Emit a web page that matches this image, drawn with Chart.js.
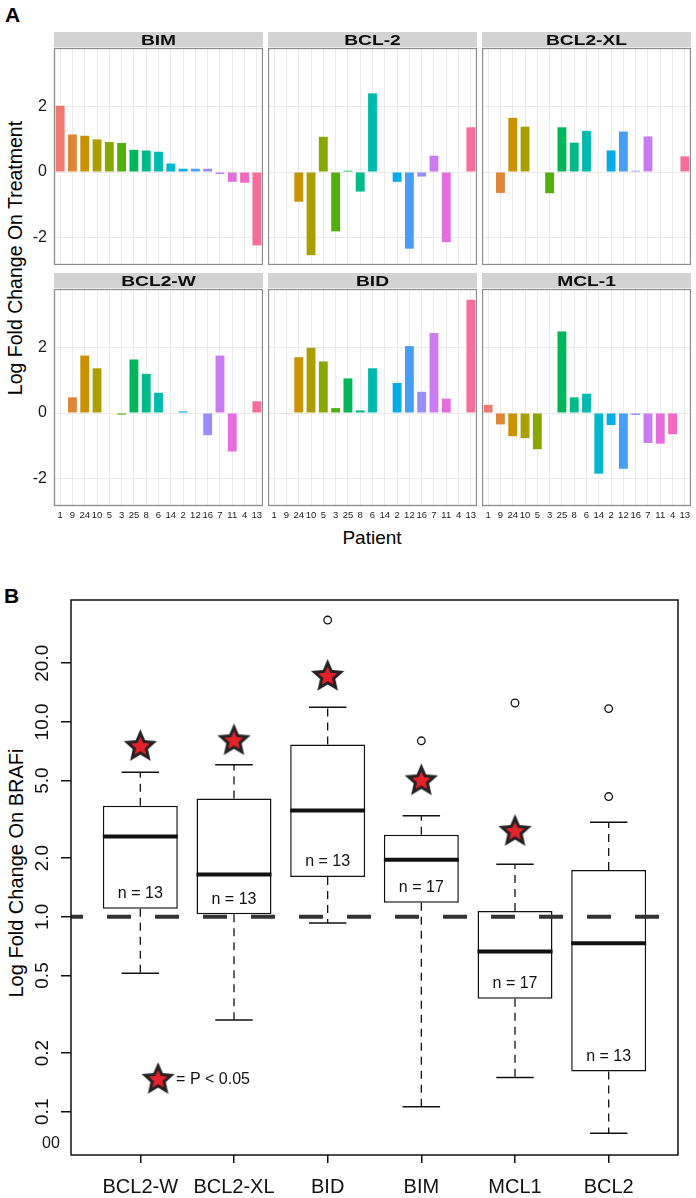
<!DOCTYPE html>
<html>
<head>
<meta charset="utf-8">
<script src="https://cdn.jsdelivr.net/npm/chart.js@4.4.1/dist/chart.umd.min.js"></script>
<style>
  body { margin: 0; background: #fff; width: 696px; height: 1198px; position: relative; overflow: hidden;
         font-family: "Liberation Sans", Arial, Helvetica, sans-serif; color: #000; }
  canvas { position: absolute; }
  .lbl { position: absolute; white-space: nowrap; }
  .rot { transform: translate(-50%, -50%) rotate(-90deg); }
  .mid { transform: translate(-50%, -50%); }
</style>
</head>
<body>
<div class="lbl" style="left:5px;top:3px;font-weight:bold;font-size:21px">A</div>
<div class="lbl rot" style="left:15px;top:258px;font-size:19.5px">Log Fold Change On Treatment</div>
<div class="lbl mid" style="left:372px;top:538px;font-size:19px">Patient</div>
<div class="lbl" style="left:4px;top:584px;font-weight:bold;font-size:21px">B</div>
<div class="lbl rot" style="left:16px;top:873px;font-size:20px">Log Fold Change On BRAFi</div>

<script>
// ---- panel A data ----
const patients = ["1", "9", "24", "10", "5", "3", "25", "8", "6", "14", "2", "12", "16", "7", "11", "4", "13"];
const panelNames = ["BIM", "BCL-2", "BCL2-XL", "BCL2-W", "BID", "MCL-1"];
const bimVals = [2.03, 1.15, 1.11, 1.0, 0.92, 0.89, 0.68, 0.66, 0.62, 0.26, 0.1, 0.1, 0.1, -0.06, -0.3, -0.33, -2.25];
const bcl2Vals = [null, null, -0.91, -2.55, 1.08, -1.82, 0.04, -0.6, 2.41, null, -0.3, -2.35, -0.14, 0.5, -2.15, null, 1.37];
const bclxlVals = [null, -0.64, 1.66, 1.39, null, -0.65, 1.37, 0.9, 1.26, null, 0.66, 1.24, 0.04, 1.09, null, null, 0.48];
const bclwVals = [null, 0.48, 1.76, 1.37, null, -0.05, 1.64, 1.2, 0.62, null, 0.05, null, -0.68, 1.76, -1.18, null, 0.36];
const bidVals = [null, -0.02, 1.71, 2.0, 1.58, 0.15, 1.06, 0.08, 1.37, null, 0.92, 2.05, 0.65, 2.45, 0.44, null, 3.47];
const mcl1Vals = [0.25, -0.35, -0.71, -0.77, -1.11, null, 2.5, 0.48, 0.59, -1.86, -0.37, -1.71, -0.06, -0.92, -0.94, -0.65, null];
const yTicksA = [-2, 0, 2];

// ---- panel B data ----
const genesB = ["BCL2-W", "BCL2-XL", "BID", "BIM", "MCL1", "BCL2"];
const q1 = [1.10, 1.03, 1.60, 1.18, 0.38, 0.161];
const medians = [2.58, 1.65, 3.51, 1.96, 0.664, 0.732];
const q3 = [3.71, 4.04, 7.65, 2.64, 1.07, 1.74];
const whiskLo = [0.514, 0.296, 0.93, 0.106, 0.15, 0.0776];
const whiskHi = [5.52, 6.02, 11.9, 3.30, 1.86, 3.06];
const nCounts = [13, 13, 13, 17, 17, 13];
const outlierGene = [3, 4, 5, 6, 6];
const outlierVal = [33.3, 8.0, 12.5, 11.7, 4.14];
const starVals = [7.55, 8.09, 17.3, 5.04, 2.77, null];
const yTicksB = [0.1, 0.2, 0.5, 1, 2, 5, 10, 20];
const refLine = 1;
const legendKey = { x: 1.19, y: 0.148, text: "= P < 0.05" };

const FONT = '"Liberation Sans", Arial, Helvetica, sans-serif';

// ggplot2 style hue palette (HCL)
function hcl(h, c, l) {
  const hr = h * Math.PI / 180;
  const U = c * Math.cos(hr), V = c * Math.sin(hr);
  const Xn = 95.047, Yn = 100, Zn = 108.883;
  const Y = l > 8 ? Yn * Math.pow((l + 16) / 116, 3) : Yn * l / 903.3;
  const den = Xn + 15 * Yn + 3 * Zn;
  const up = U / (13 * l) + 4 * Xn / den;
  const vp = V / (13 * l) + 9 * Yn / den;
  const X = 9 * Y * up / (4 * vp);
  const Z = Y * (12 - 3 * up - 20 * vp) / (4 * vp);
  const x = X / 100, y = Y / 100, z = Z / 100;
  const lin = [
    3.2404542 * x - 1.5371385 * y - 0.4985314 * z,
    -0.9692660 * x + 1.8760108 * y + 0.0415560 * z,
    0.0556434 * x - 0.2040259 * y + 1.0572252 * z
  ];
  const rgb = lin.map(v => {
    v = v <= 0.0031308 ? 12.92 * v : 1.055 * Math.pow(v, 1 / 2.4) - 0.055;
    return Math.round(Math.min(1, Math.max(0, v)) * 255);
  });
  return `rgb(${rgb[0]},${rgb[1]},${rgb[2]})`;
}
const patientColors = patients.map((p, i) => hcl(15 + i * 360 / patients.length, 88, 64));

const stripPlugin = {
  id: "strip",
  afterDraw(chart, args, opts) {
    const { ctx, chartArea: a } = chart;
    ctx.save();
    ctx.fillStyle = "#d3d3d3";
    ctx.fillRect(a.left, a.top - 16, a.right - a.left, 15);
    ctx.strokeStyle = "#8c8c8c";
    ctx.lineWidth = 1.3;
    ctx.strokeRect(a.left + 0.5, a.top + 0.5, a.right - a.left - 1, a.bottom - a.top - 1);
    ctx.fillStyle = "#0d0d0d";
    ctx.font = "bold 15px " + FONT;
    ctx.textAlign = "center";
    ctx.textBaseline = "middle";
    ctx.translate((a.left + a.right) / 2, a.top - 8);
    ctx.scale(1.28, 1);
    ctx.fillText(opts.title, 0, 1);
    ctx.restore();
  }
};

const cols = [{ left: 0, w: 263, axis: 54 }, { left: 268, w: 209, axis: 0 }, { left: 482, w: 209, axis: 0 }];
const rows = [{ top: 32, h: 233, xh: 0 }, { top: 273, h: 259, xh: 26 }];
const panelData = [bimVals, bcl2Vals, bclxlVals, bclwVals, bidVals, mcl1Vals];

panelData.forEach((vals, k) => {
  const col = cols[k % 3], row = rows[Math.floor(k / 3)];
  const cv = document.createElement("canvas");
  cv.width = col.w; cv.height = row.h;
  cv.style.left = col.left + "px"; cv.style.top = row.top + "px";
  document.body.appendChild(cv);
  new Chart(cv.getContext("2d"), {
    type: "bar",
    data: {
      labels: patients,
      datasets: [{
        data: vals,
        backgroundColor: patientColors,
        barPercentage: 0.72,
        categoryPercentage: 1
      }]
    },
    options: {
      responsive: false,
      animation: false,
      layout: { padding: { top: 16, left: 0, right: 0, bottom: 0 } },
      plugins: { legend: { display: false }, tooltip: { enabled: false }, strip: { title: panelNames[k] } },
      scales: {
        x: {
          grid: { offset: false, color: "#ebebeb", lineWidth: 1, drawTicks: false },
          border: { display: false },
          ticks: {
            display: row.xh > 0, autoSkip: false, maxRotation: 0, minRotation: 0,
            padding: 4, color: "#1a1a1a", font: { family: FONT, size: 9.5 }
          },
          afterFit: s => { s.height = row.xh; s.paddingLeft = 0; s.paddingRight = 0; }
        },
        y: {
          min: -2.85, max: 3.8,
          afterBuildTicks: s => { s.ticks = yTicksA.map(v => ({ value: v })); },
          grid: { color: "#ebebeb", lineWidth: 1, drawTicks: false },
          border: { display: false },
          ticks: { display: col.axis > 0, padding: 7, color: "#1a1a1a", font: { family: FONT, size: 16 } },
          afterFit: s => { s.width = col.axis; s.paddingTop = 0; s.paddingBottom = 0; }
        }
      }
    },
    plugins: [stripPlugin]
  });
});

// ---- panel B ----
function makeStar(outer, fill, innerFill) {
  const size = Math.ceil(outer * 2 + 4);
  const c = document.createElement("canvas");
  c.width = size; c.height = size;
  const g = c.getContext("2d");
  const path = (R, r) => {
    g.beginPath();
    for (let i = 0; i < 10; i++) {
      const rad = i % 2 === 0 ? R : r;
      const ang = -Math.PI / 2 + i * Math.PI / 5;
      g.lineTo(size / 2 + rad * Math.cos(ang), size / 2 + 1 + rad * Math.sin(ang));
    }
    g.closePath();
  };
  path(outer, outer * 0.46);
  g.fillStyle = fill; g.fill();
  path(outer * 0.56, outer * 0.56 * 0.46);
  g.fillStyle = innerFill; g.fill();
  return c;
}
const starImg = makeStar(17.5, "#262223", "#e52229");

const boxPlugin = {
  id: "boxExtras",
  afterDatasetsDraw(chart) {
    const { ctx, chartArea: a } = chart;
    const xs = chart.scales.x, ys = chart.scales.y;
    const unit = xs.getPixelForValue(2) - xs.getPixelForValue(1);
    ctx.save();
    ctx.strokeStyle = "#111";
    genesB.forEach((g, i) => {
      const cx = xs.getPixelForValue(i + 1);
      // whiskers
      ctx.lineWidth = 1.3;
      ctx.setLineDash([8, 6]);
      ctx.beginPath();
      ctx.moveTo(cx, ys.getPixelForValue(q3[i])); ctx.lineTo(cx, ys.getPixelForValue(whiskHi[i]));
      ctx.moveTo(cx, ys.getPixelForValue(q1[i])); ctx.lineTo(cx, ys.getPixelForValue(whiskLo[i]));
      ctx.stroke();
      ctx.setLineDash([]);
      ctx.lineWidth = 1.5;
      ctx.beginPath();
      [whiskHi[i], whiskLo[i]].forEach(v => {
        const y = ys.getPixelForValue(v);
        ctx.moveTo(cx - 0.2 * unit, y); ctx.lineTo(cx + 0.2 * unit, y);
      });
      ctx.stroke();
      // median
      ctx.lineWidth = 4;
      ctx.beginPath();
      const my = ys.getPixelForValue(medians[i]);
      ctx.moveTo(cx - 0.4 * unit, my); ctx.lineTo(cx + 0.4 * unit, my);
      ctx.stroke();
      // n label
      ctx.fillStyle = "#111";
      ctx.font = "16px " + FONT;
      ctx.textAlign = "center"; ctx.textBaseline = "middle";
      ctx.fillText("n = " + nCounts[i], cx, ys.getPixelForValue(q1[i]) - 15);
    });
    // reference line
    const ry = ys.getPixelForValue(refLine);
    ctx.strokeStyle = "#333";
    ctx.lineWidth = 4;
    ctx.setLineDash([24, 24]);
    ctx.lineDashOffset = 12;
    ctx.beginPath(); ctx.moveTo(a.left, ry); ctx.lineTo(a.right, ry); ctx.stroke();
    ctx.setLineDash([]);
    // legend key
    const lx = xs.getPixelForValue(legendKey.x), ly = ys.getPixelForValue(legendKey.y);
    ctx.drawImage(starImg, lx - starImg.width / 2, ly - starImg.height / 2);
    ctx.fillStyle = "#111";
    ctx.font = "16px " + FONT;
    ctx.textAlign = "left"; ctx.textBaseline = "middle";
    ctx.fillText(legendKey.text, lx + 18, ly + 1);
    // frame
    ctx.strokeStyle = "#111";
    ctx.lineWidth = 1.5;
    ctx.strokeRect(a.left, a.top, a.right - a.left, a.bottom - a.top);
    // rotated y tick labels
    ctx.font = "19px " + FONT;
    ctx.textAlign = "center"; ctx.textBaseline = "middle";
    yTicksB.forEach(v => {
      ctx.save();
      ctx.translate(43, ys.getPixelForValue(v));
      ctx.rotate(-Math.PI / 2);
      ctx.fillText(v.toFixed(1), 0, 0);
      ctx.restore();
    });
    ctx.font = "16px " + FONT;
    ctx.textAlign = "left";
    ctx.fillText("00", 42, 1144 - 560);
    ctx.restore();
  }
};

const cvB = document.createElement("canvas");
cvB.width = 696; cvB.height = 638;
cvB.style.left = "0px"; cvB.style.top = "560px";
document.body.appendChild(cvB);

new Chart(cvB.getContext("2d"), {
  type: "bar",
  data: {
    datasets: [
      {
        type: "scatter",
        data: starVals.map((v, i) => (v == null ? null : { x: i + 1, y: v })).filter(Boolean),
        pointStyle: starImg,
        radius: 17
      },
      {
        type: "scatter",
        data: outlierGene.map((g, i) => ({ x: g, y: outlierVal[i] })),
        pointStyle: "circle",
        radius: 3.8,
        borderColor: "#111",
        borderWidth: 1.3,
        backgroundColor: "#fff"
      },
      {
        type: "bar",
        data: genesB.map((g, i) => ({ x: i + 1, y: [q1[i], q3[i]] })),
        backgroundColor: "#fff",
        borderColor: "#111",
        borderWidth: 1.5,
        borderSkipped: false,
        barPercentage: 0.8,
        categoryPercentage: 1
      }
    ]
  },
  options: {
    responsive: false,
    animation: false,
    layout: { padding: { top: 40, right: 6, left: 0, bottom: 0 } },
    plugins: { legend: { display: false }, tooltip: { enabled: false } },
    scales: {
      x: {
        type: "linear",
        min: 0.26, max: 6.74,
        offset: false,
        bounds: "data",
        afterBuildTicks: s => { s.ticks = genesB.map((g, i) => ({ value: i + 1 })); },
        grid: { drawOnChartArea: false, drawTicks: true, tickLength: 8, color: "#111", lineWidth: 1.5, offset: false },
        border: { display: false },
        ticks: {
          padding: 12, color: "#111", font: { family: FONT, size: 20 },
          maxRotation: 0, minRotation: 0,
          callback: v => genesB[v - 1]
        },
        afterFit: s => { s.height = 43; }
      },
      y: {
        type: "logarithmic",
        min: 0.06, max: 42.2,
        bounds: "data",
        afterBuildTicks: s => { s.ticks = yTicksB.map(v => ({ value: v })); },
        grid: { drawOnChartArea: false, drawTicks: true, tickLength: 10, color: "#111", lineWidth: 1.5 },
        border: { display: false },
        ticks: { display: false },
        afterFit: s => { s.width = 71; }
      }
    }
  },
  plugins: [boxPlugin]
});
</script>
</body>
</html>
